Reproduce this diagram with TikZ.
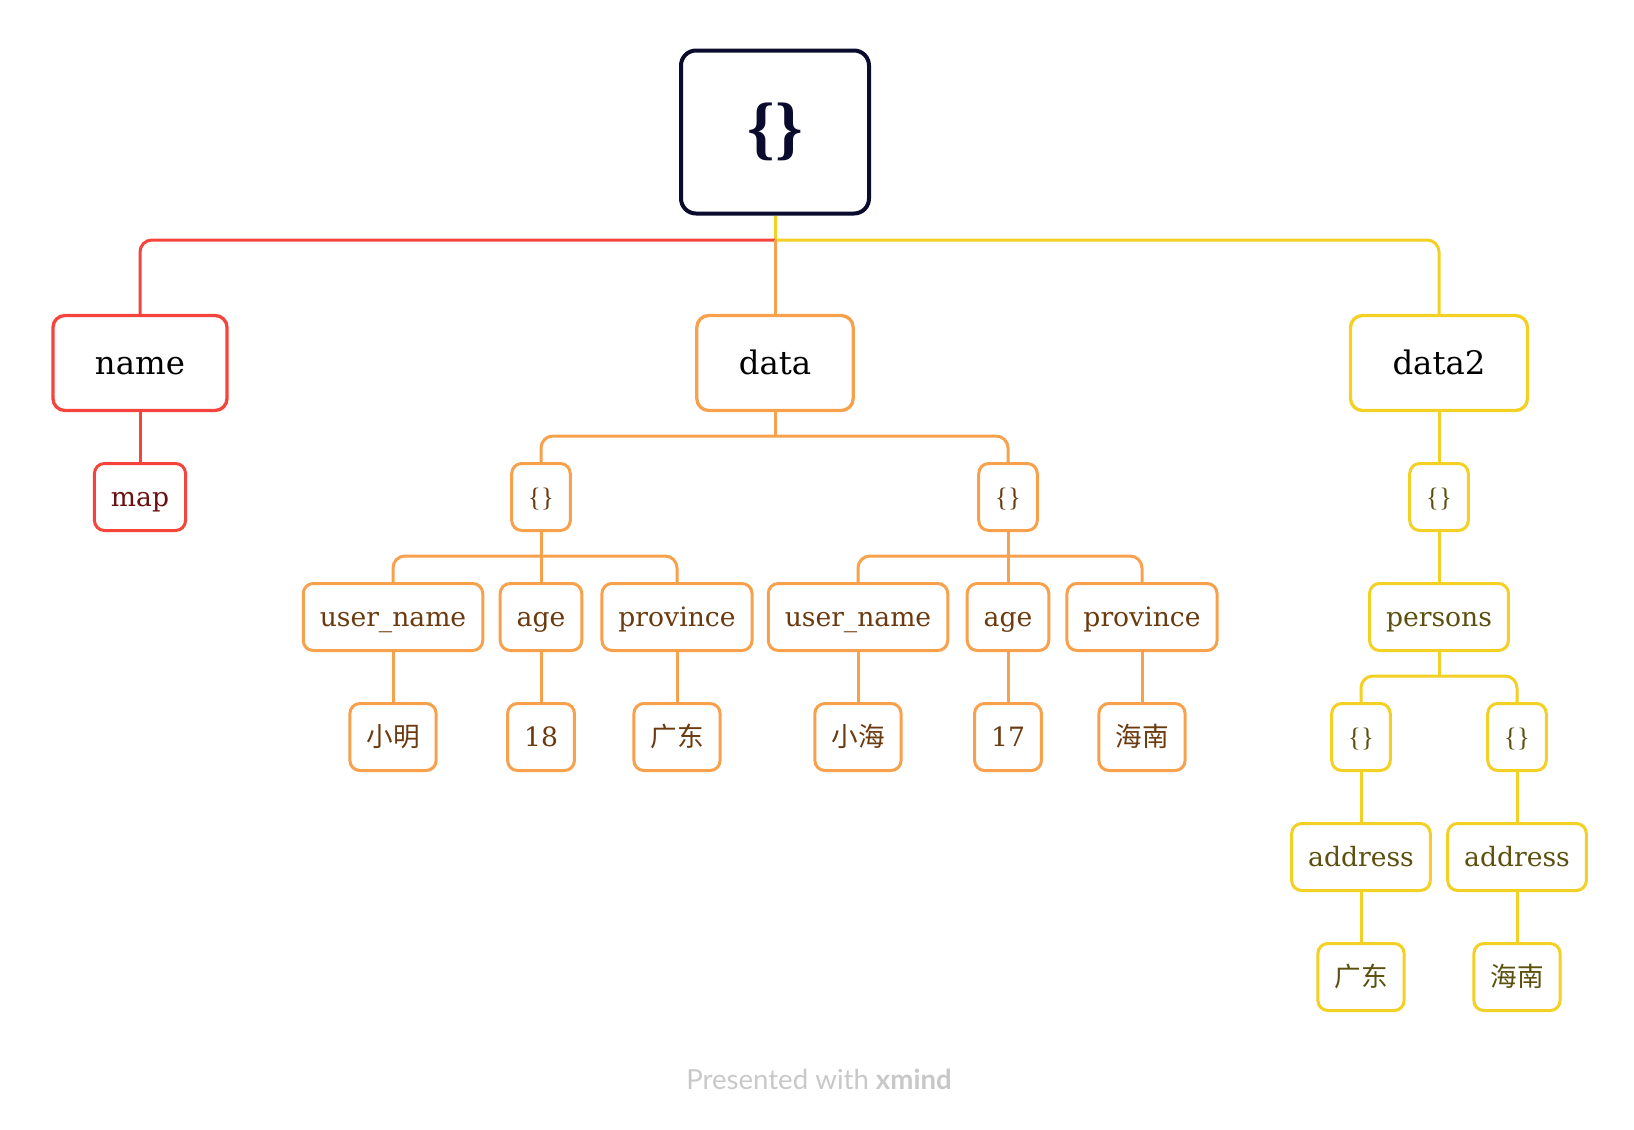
\documentclass[tikz,border=0pt]{standalone}
\usepackage{fontspec}
\setmainfont{DejaVu Serif}
\newfontfamily\cjk{Noto Sans CJK SC}
\newfontfamily\footfont{Lato}
\newfontfamily\bracefont{Liberation Serif}

\definecolor{rootc}{HTML}{0B0B2E}
\definecolor{redc}{HTML}{F5443C}
\definecolor{orangec}{HTML}{F7A14C}
\definecolor{yellowc}{HTML}{F2D024}
\definecolor{redt}{HTML}{6B1010}
\definecolor{oranget}{HTML}{6B3A0F}
\definecolor{yellowt}{HTML}{5C500F}
\definecolor{footc}{HTML}{C8C8C8}

\newcommand{\objsign}{{\bracefont\{\}}}

\tikzset{every picture/.style={line width=0.75pt}}
\tikzset{
  rootbox/.style={draw=rootc, fill=white, rounded corners=7.5pt, line width=2pt,
    minimum width=94pt, minimum height=81.5pt, text=rootc,
    font=\bracefont\fontsize{35}{40}\selectfont\bfseries},
  topic/.style={draw, fill=white, rounded corners=6pt, line width=1.65pt,
    minimum height=47.5pt, inner xsep=21pt, text=black,
    text height=12pt, text depth=0.5pt, font=\fontsize{16.2}{19}\selectfont},
  leaf/.style={draw, fill=white, rounded corners=5pt, line width=1.5pt,
    minimum height=33.5pt, inner xsep=8.25pt,
    text height=10pt, text depth=0.3pt, font=\fontsize{13.3}{16}\selectfont},
  redb/.style={draw=redc, text=redt},
  orangeb/.style={draw=orangec, text=oranget},
  yellowb/.style={draw=yellowc, text=yellowt},
  link/.style={line width=1.5pt, rounded corners=6pt}
}

\begin{document}
\begin{tikzpicture}[x=0.5pt,y=-0.5pt]
\useasboundingbox (0,0) rectangle (1634,1130);

% bus points
\coordinate (rootbus) at (775,240);
\coordinate (databus) at (775,436);
\coordinate (objAbus) at (541,556);
\coordinate (objBbus) at (1008,556);
\coordinate (personsbus) at (1439,676);

% Root
\node[rootbox] (root) at (775,132) {\{\}};

% Text Node
\node[topic, draw=redc] (name) at (140,363) {name};
\node[topic, draw=orangec] (data) at (775,363) {data};
\node[topic, draw=yellowc] (data2) at (1439,363) {data2};

% name branch
\node[leaf, redb] (map) at (140,497) {map};

% data branch
\node[leaf, orangeb] (objA) at (541,497) {\objsign};
\node[leaf, orangeb] (objB) at (1008,497) {\objsign};
\node[leaf, orangeb] (unameA) at (393,617) {user\_name};
\node[leaf, orangeb] (ageA) at (541,617) {age};
\node[leaf, orangeb] (provA) at (677,617) {province};
\node[leaf, orangeb] (unameB) at (858,617) {user\_name};
\node[leaf, orangeb] (ageB) at (1008,617) {age};
\node[leaf, orangeb] (provB) at (1142,617) {province};
\node[leaf, orangeb] (valunameA) at (393,737) {\cjk 小明};
\node[leaf, orangeb] (valageA) at (541,737) {18};
\node[leaf, orangeb] (valprovA) at (677,737) {\cjk 广东};
\node[leaf, orangeb] (valunameB) at (858,737) {\cjk 小海};
\node[leaf, orangeb] (valageB) at (1008,737) {17};
\node[leaf, orangeb] (valprovB) at (1142,737) {\cjk 海南};

% data2 branch
\node[leaf, yellowb] (objC) at (1439,497) {\objsign};
\node[leaf, yellowb] (persons) at (1439,617) {persons};
\node[leaf, yellowb] (objD) at (1361,737) {\objsign};
\node[leaf, yellowb] (objE) at (1517,737) {\objsign};
\node[leaf, yellowb] (addrD) at (1361,857) {address};
\node[leaf, yellowb] (addrE) at (1517,857) {address};
\node[leaf, yellowb] (valaddrD) at (1361,977) {\cjk 广东};
\node[leaf, yellowb] (valaddrE) at (1517,977) {\cjk 海南};

%Shape: Lines from root
\draw[link, yellowc] (root.south) -- (rootbus);
\draw[link, redc] (rootbus) -| (name.north);
\draw[link, yellowc] (rootbus) -| (data2.north);
\draw[link, orangec] (rootbus) -- (data.north);

%Shape: Lines of name
\draw[link, redc] (name.south) -- (map.north);

%Shape: Lines of data
\draw[link, orangec] (data.south) -- (databus);
\draw[link, orangec] (databus) -| (objA.north);
\draw[link, orangec] (databus) -| (objB.north);
\draw[link, orangec] (objA.south) -- (objAbus);
\draw[link, orangec] (objAbus) -| (unameA.north);
\draw[link, orangec] (objAbus) -| (provA.north);
\draw[link, orangec] (objAbus) -- (ageA.north);
\draw[link, orangec] (objB.south) -- (objBbus);
\draw[link, orangec] (objBbus) -| (unameB.north);
\draw[link, orangec] (objBbus) -| (provB.north);
\draw[link, orangec] (objBbus) -- (ageB.north);
\foreach \a/\b in {unameA/valunameA, ageA/valageA, provA/valprovA,
                   unameB/valunameB, ageB/valageB, provB/valprovB}
  \draw[link, orangec] (\a.south) -- (\b.north);

%Shape: Lines of data2
\draw[link, yellowc] (data2.south) -- (objC.north);
\draw[link, yellowc] (objC.south) -- (persons.north);
\draw[link, yellowc] (persons.south) -- (personsbus);
\draw[link, yellowc] (personsbus) -| (objD.north);
\draw[link, yellowc] (personsbus) -| (objE.north);
\foreach \a/\b in {objD/addrD, objE/addrE, addrD/valaddrD, addrE/valaddrE}
  \draw[link, yellowc] (\a.south) -- (\b.north);

% Text Node
\node[text=footc, font=\footfont\fontsize{13.8}{16}\selectfont] (footer) at (819,1079) {Presented with \textbf{xmind}};

\end{tikzpicture}
\end{document}
